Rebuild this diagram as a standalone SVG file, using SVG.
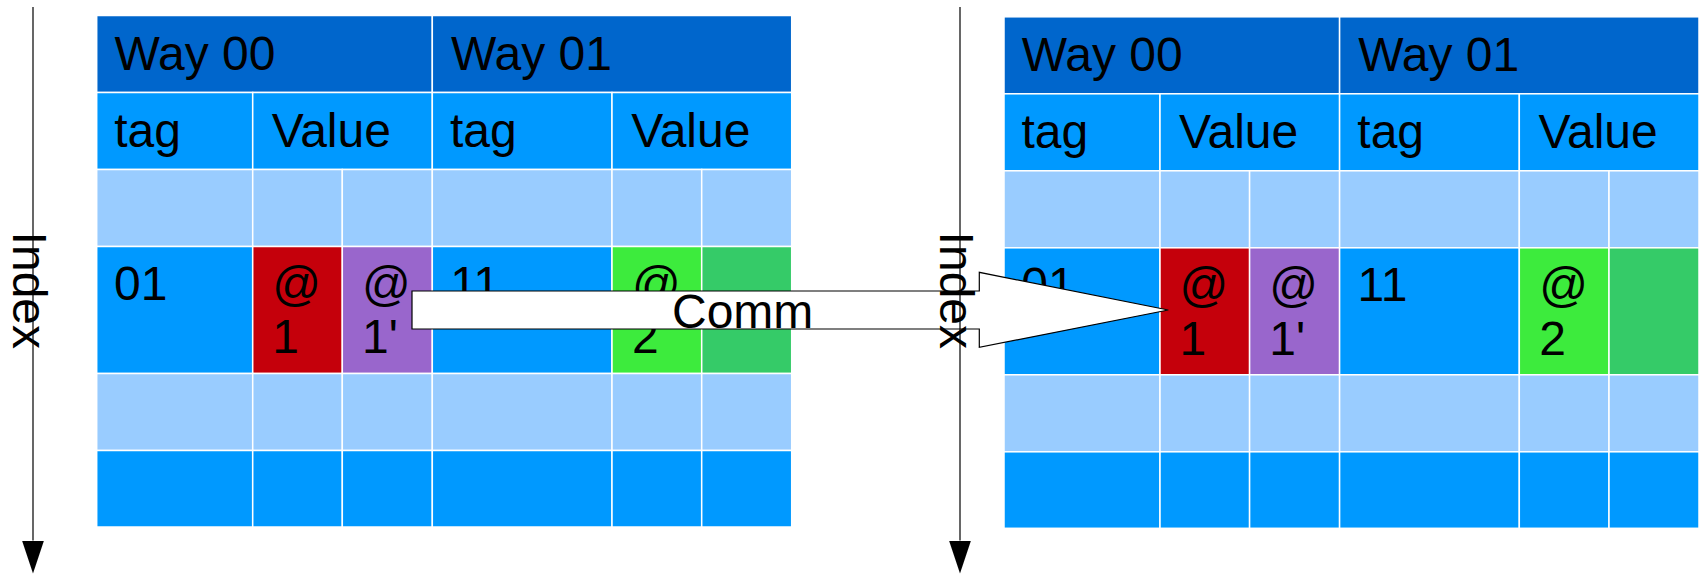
<svg xmlns="http://www.w3.org/2000/svg" width="1701" height="574" viewBox="0 0 1701 574">
<defs>
<style>
.c{stroke:#ffffff;stroke-width:1.5}
.h{fill:#0066cc}
.m{fill:#0099ff}
.l{fill:#99ccff}
.r{fill:#c5000b}
.p{fill:#9966cc}
.g{fill:#3deb3d}
.dg{fill:#35cb68}
.t{font-family:"Liberation Sans",Arial,sans-serif;font-size:48px;fill:#000}
.ax{stroke:#000;stroke-width:1.2;fill:none}
</style>
<marker id="ah" viewBox="0 0 33 22" refX="0" refY="11" markerWidth="33" markerHeight="22" markerUnits="userSpaceOnUse" orient="auto">
<path d="M0,0 L33,11 L0,22 Z" fill="#000"/>
</marker>
<g id="tbl">
<rect class="c h" x="0" y="0" width="335.6" height="77"/>
<rect class="c h" x="335.6" y="0" width="359.4" height="77"/>
<rect class="c m" x="0" y="77" width="156" height="77"/>
<rect class="c m" x="156" y="77" width="179.6" height="77"/>
<rect class="c m" x="335.6" y="77" width="179.7" height="77"/>
<rect class="c m" x="515.3" y="77" width="179.7" height="77"/>
<rect class="c l" x="0" y="154" width="156" height="77"/>
<rect class="c l" x="156" y="154" width="89.6" height="77"/>
<rect class="c l" x="245.6" y="154" width="90" height="77"/>
<rect class="c l" x="335.6" y="154" width="179.7" height="77"/>
<rect class="c l" x="515.3" y="154" width="89.7" height="77"/>
<rect class="c l" x="605" y="154" width="90" height="77"/>
<rect class="c m" x="0" y="231" width="156" height="127"/>
<rect class="c r" x="156" y="231" width="89.6" height="127"/>
<rect class="c p" x="245.6" y="231" width="90" height="127"/>
<rect class="c m" x="335.6" y="231" width="179.7" height="127"/>
<rect class="c g" x="515.3" y="231" width="89.7" height="127"/>
<rect class="c dg" x="605" y="231" width="90" height="127"/>
<rect class="c l" x="0" y="358" width="156" height="77"/>
<rect class="c l" x="156" y="358" width="89.6" height="77"/>
<rect class="c l" x="245.6" y="358" width="90" height="77"/>
<rect class="c l" x="335.6" y="358" width="179.7" height="77"/>
<rect class="c l" x="515.3" y="358" width="89.7" height="77"/>
<rect class="c l" x="605" y="358" width="90" height="77"/>
<rect class="c m" x="0" y="435" width="156" height="76.5"/>
<rect class="c m" x="156" y="435" width="89.6" height="76.5"/>
<rect class="c m" x="245.6" y="435" width="90" height="76.5"/>
<rect class="c m" x="335.6" y="435" width="179.7" height="76.5"/>
<rect class="c m" x="515.3" y="435" width="89.7" height="76.5"/>
<rect class="c m" x="605" y="435" width="90" height="76.5"/>
<text class="t" x="17.8" y="54.5">Way 00</text>
<text class="t" x="354.3" y="54.5">Way 01</text>
<text class="t" x="17.5" y="131.2">tag</text>
<text class="t" x="175" y="131.2">Value</text>
<text class="t" x="353.3" y="131.2">tag</text>
<text class="t" x="534.5" y="131.2">Value</text>
<text class="t" x="17.3" y="284.5">01</text>
<text class="t" x="175.5" y="284.5">@</text>
<text class="t" x="175.5" y="337.8">1</text>
<text class="t" x="265.3" y="284.5">@</text>
<text class="t" x="265.3" y="337.8">1'</text>
<text class="t" x="353.5" y="284.5">11</text>
<text class="t" x="535.3" y="284.5">@</text>
<text class="t" x="535.3" y="337.8">2</text>
</g>
</defs>
<rect width="1701" height="574" fill="#fff"/>
<g id="cache-before">
<use href="#tbl" transform="translate(96.7,15.5)"/>
</g>
<g id="cache-after">
<use href="#tbl" transform="translate(1004,16.8)"/>
</g>
<g id="connectors">
<g id="comm-arrow">
<path d="M412,291 L979.3,291 L979.3,272.3 L1168.3,310 L979.3,347.3 L979.3,329 L412,329 Z" fill="#fff" stroke="#000" stroke-width="1.2"/>
<text class="t" x="672" y="328.3">Comm</text>
</g>
<g id="index-left">
<line class="ax" x1="33" y1="7" x2="33" y2="540.5" marker-end="url(#ah)"/>
<text class="t" transform="translate(13.3,231.6) rotate(90)">Index</text>
</g>
<g id="index-right">
<line class="ax" x1="960" y1="7" x2="960" y2="540.5" stroke="#666" marker-end="url(#ah)"/>
<text class="t" transform="translate(940,231.6) rotate(90)">Index</text>
</g>
</g>
</svg>
